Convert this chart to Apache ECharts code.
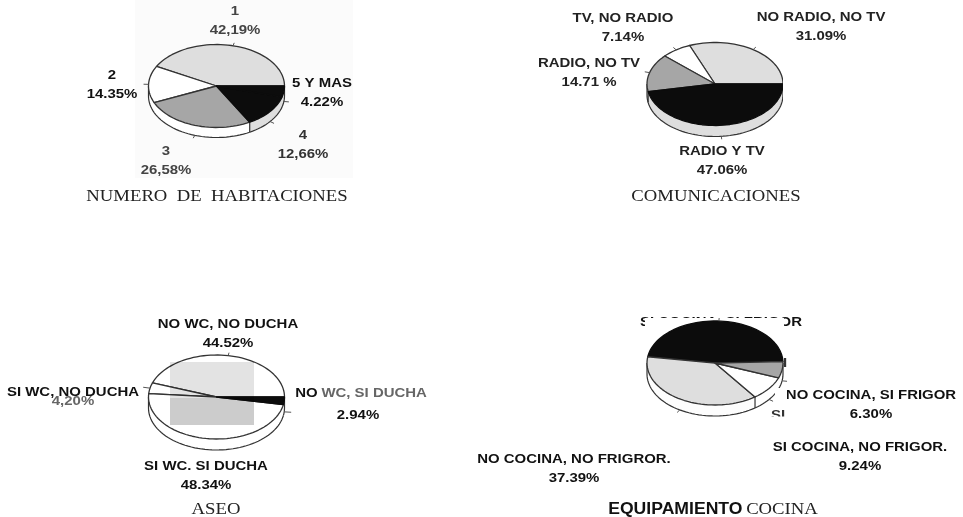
<!DOCTYPE html>
<html>
<head>
<meta charset="utf-8">
<title>Vivienda</title>
<script src="https://cdn.jsdelivr.net/npm/echarts@6/dist/echarts.min.js"></script>
<style>
  html, body { margin: 0; padding: 0; background: #fff; }
  #main { width: 963px; height: 517px; }
</style>
</head>
<body>
<div id="main"></div>
<script>
// numero de habitaciones
var habNames = ["1", "2", "3", "4", "5 Y MAS"];
var habValues = [42.19, 14.35, 26.58, 12.66, 4.22];
var habPct = ["42,19%", "14.35%", "26,58%", "12,66%", "4.22%"];

// comunicaciones
var comNames = ["NO RADIO, NO TV", "TV, NO RADIO", "RADIO, NO TV", "RADIO Y TV"];
var comValues = [31.09, 7.14, 14.71, 47.06];
var comPct = ["31.09%", "7.14%", "14.71 %", "47.06%"];

// aseo
var aseoNames = ["NO WC, NO DUCHA", "SI WC, NO DUCHA", "SI WC. SI DUCHA", "NO WC, SI DUCHA"];
var aseoValues = [44.52, 4.20, 48.34, 2.94];
var aseoPct = ["44.52%", "4,20%", "48.34%", "2.94%"];

// equipamiento cocina
var cocNames = ["SI COCINA, SI FRIGOR", "NO COCINA, NO FRIGROR.", "SI COCINA, NO FRIGOR.", "NO COCINA, SI FRIGOR"];
var cocValues = [47.07, 37.39, 9.24, 6.30];
var cocPct = ["47.07%", "37.39%", "9.24%", "6.30%"];

var BLACK = "#0c0c0c", LIGHT = "#dedede", MID = "#a6a6a6", WHITE = "#ffffff";
var EDGE = "#333";

// angulo en grados, sentido antihorario desde el este
function arcPoints(p, a0, a1, dy, grow) {
  var pts = [], steps = Math.max(2, Math.ceil(Math.abs(a1 - a0) / 3));
  for (var i = 0; i <= steps; i++) {
    var a = (a0 + (a1 - a0) * i / steps) * Math.PI / 180;
    pts.push([p.cx + (p.rx + (grow || 0)) * Math.cos(a), p.cy - (p.ry + (grow || 0) * 0.6) * Math.sin(a) + dy]);
  }
  return pts;
}

function pieSeries(values, p) {
  var total = values.reduce(function (s, v) { return s + v; }, 0);
  return {
    type: "custom",
    coordinateSystem: "none",
    z: 2,
    data: values.map(function (v) { return [v]; }),
    renderItem: function (params, api) {
      var idx = params.dataIndex;
      var before = 0;
      for (var i = 0; i < idx; i++) before += values[i];
      var a0 = (p.start || 0) + before / total * 360;
      var a1 = a0 + api.value(0) / total * 360;
      var children = [];

      // canto: solo la parte delantera del disco
      var r0 = Math.max(a0, 180), r1 = Math.min(a1, 360);
      if (r1 > r0) {
        var top = arcPoints(p, r0, r1, 0);
        var bottom = arcPoints(p, r0, r1, p.depth);
        children.push({
          type: "polygon",
          z2: 1,
          shape: { points: top.concat(bottom.slice().reverse()) },
          style: { fill: p.rim[idx] }
        });
        children.push({
          type: "polyline",
          z2: 2,
          shape: { points: bottom },
          style: { fill: null, stroke: EDGE, lineWidth: 1.2 }
        });
        var sides = [];
        if (r0 === 180 || p.rim[idx] !== p.rim[idx - 1]) sides.push(0);
        if (r1 === 360) sides.push(top.length - 1);
        sides.forEach(function (k) {
          children.push({
            type: "line",
            z2: 2,
            shape: { x1: top[k][0], y1: top[k][1], x2: bottom[k][0], y2: bottom[k][1] },
            style: { stroke: EDGE, lineWidth: 1.2 }
          });
        });
      }

      // cara superior
      children.push({
        type: "polygon",
        z2: 3,
        shape: { points: [[p.cx, p.cy]].concat(arcPoints(p, a0, a1, 0)) },
        style: {
          fill: p.face[idx],
          stroke: p.face[idx] === BLACK ? BLACK : EDGE,
          lineWidth: 1.3,
          lineJoin: "round"
        }
      });

      // marca en el punto medio del sector
      if (!p.noTick || p.noTick.indexOf(idx) < 0) {
        var mid = (a0 + a1) / 2;
        var dy = (mid % 360) > 180 ? p.depth : 0;
        var len = (p.tickLen && p.tickLen[idx]) || 5;
        var t = arcPoints(p, mid, mid, dy, 0)[0];
        var u = arcPoints(p, mid, mid, dy, len)[0];
        children.push({
          type: "line",
          z2: 4,
          shape: { x1: t[0], y1: t[1], x2: u[0], y2: u[1] },
          style: { stroke: "#555", lineWidth: 1 }
        });
      }
      return { type: "group", children: children };
    }
  };
}

var SANS = "bold 13px 'Liberation Sans', Arial, sans-serif";
var STRETCH = 1.15;

function label(x, y, text, z, fill) {
  return {
    type: "text", x: x, y: y + 1, z: z === undefined ? 5 : z, scaleX: STRETCH,
    style: {
      text: text, font: SANS, fill: fill || "#111",
      align: "center", verticalAlign: "middle", lineHeight: 19.5
    }
  };
}

function title(x, y, text) {
  return {
    type: "text", x: x, y: y + 2, z: 5, scaleX: 1.1,
    style: {
      text: text, font: "17px 'Liberation Serif', 'Times New Roman', serif", fill: "#222",
      align: "center", verticalAlign: "middle"
    }
  };
}

function whiteBox(x, y, w, h, z, fill) {
  return { type: "rect", z: z, shape: { x: x, y: y, width: w, height: h }, style: { fill: fill || "#fff" } };
}

var graphics = [
  whiteBox(135, 0, 218, 178, 0, "#fbfbfb"),

  label(235, 20, habNames[0] + "\n" + habPct[0], 5, "#444"),
  label(112, 84, habNames[1] + "\n" + habPct[1]),
  label(166, 160, habNames[2] + "\n" + habPct[2], 5, "#444"),
  label(303, 144, habNames[3] + "\n" + habPct[3], 5, "#333"),
  label(322, 92, habNames[4] + "\n" + habPct[4]),
  title(217, 195, "NUMERO  DE  HABITACIONES"),

  label(821, 26, comNames[0] + "\n" + comPct[0], 5, "#222"),
  label(623, 27, comNames[1] + "\n" + comPct[1], 5, "#222"),
  label(589, 72, comNames[2] + "\n" + comPct[2], 5, "#222"),
  label(722, 160, comNames[3] + "\n" + comPct[3], 5, "#222"),
  title(716, 195, "COMUNICACIONES"),

  label(228, 333, aseoNames[0] + "\n" + aseoPct[0]),
  label(73, 400, aseoPct[1], 5, "#666"),
  label(73, 391, aseoNames[1]),
  label(206, 475, aseoNames[2] + "\n" + aseoPct[2]),
  {
    type: "text", x: 361, y: 393, z: 5, scaleX: STRETCH,
    style: {
      text: "{a|NO} {b|WC, SI DUCHA}", align: "center", verticalAlign: "middle",
      rich: {
        a: { font: SANS, fill: "#111" },
        b: { font: SANS, fill: "#666" }
      }
    }
  },
  label(358, 414, aseoPct[3]),
  title(216, 508, "ASEO"),
  // mancha gris del escaneado
  whiteBox(170, 362, 84, 36, 4, "rgba(0,0,0,0.11)"),
  whiteBox(170, 398, 84, 27, 4, "rgba(0,0,0,0.2)"),

  // la imagen de la tarta tapa parte de los textos
  label(721, 321, cocNames[0], 0),
  whiteBox(645, 318, 139, 98, 1),
  label(574, 468, cocNames[1] + "\n" + cocPct[1]),
  label(860, 456, cocNames[2] + "\n" + cocPct[2]),
  label(871, 404, cocNames[3] + "\n" + cocPct[3]),
  whiteBox(775, 388, 12, 15, 6),
  label(778, 414, "SI", 5, "#333"),
  whiteBox(765, 416.5, 25, 8, 6),
  label(785, 362, "I", 5, "#333"),
  {
    type: "text", x: 713, y: 510, z: 5, scaleX: 1.1,
    style: {
      text: "{a|EQUIPAMIENTO} {b|COCINA}", align: "center", verticalAlign: "middle",
      rich: {
        a: { font: "bold 16px 'Liberation Sans', Arial, sans-serif", fill: "#111" },
        b: { font: "17px 'Liberation Serif', serif", fill: "#222" }
      }
    }
  },
  // recorte derecho de la segunda tarta
  whiteBox(783, 40, 4, 100, 6)
];

var myChart = echarts.init(document.getElementById("main"), null, { renderer: "canvas" });
myChart.setOption({
  animation: false,
  backgroundColor: "#fff",
  graphic: { elements: graphics },
  series: [
    pieSeries(habValues, {
      cx: 216.5, cy: 86, rx: 68, ry: 41.5, depth: 10,
      face: [LIGHT, WHITE, MID, BLACK, BLACK],
      rim: [WHITE, WHITE, WHITE, LIGHT, LIGHT]
    }),
    pieSeries(comValues, {
      cx: 715, cy: 84, rx: 68, ry: 41.5, depth: 11,
      face: [LIGHT, WHITE, MID, BLACK],
      rim: [WHITE, WHITE, WHITE, LIGHT]
    }),
    pieSeries(aseoValues, {
      cx: 216.5, cy: 397, rx: 68, ry: 42, depth: 11,
      face: [WHITE, WHITE, WHITE, BLACK],
      rim: [WHITE, WHITE, WHITE, WHITE],
      noTick: [2],
      tickLen: { 1: 7, 3: 7 }
    }),
    pieSeries(cocValues, {
      cx: 715, cy: 363, rx: 68, ry: 42, depth: 11, start: 2,
      face: [BLACK, LIGHT, WHITE, MID],
      rim: [WHITE, "#fdfdfd", WHITE, WHITE]
    })
  ]
});
</script>
</body>
</html>
